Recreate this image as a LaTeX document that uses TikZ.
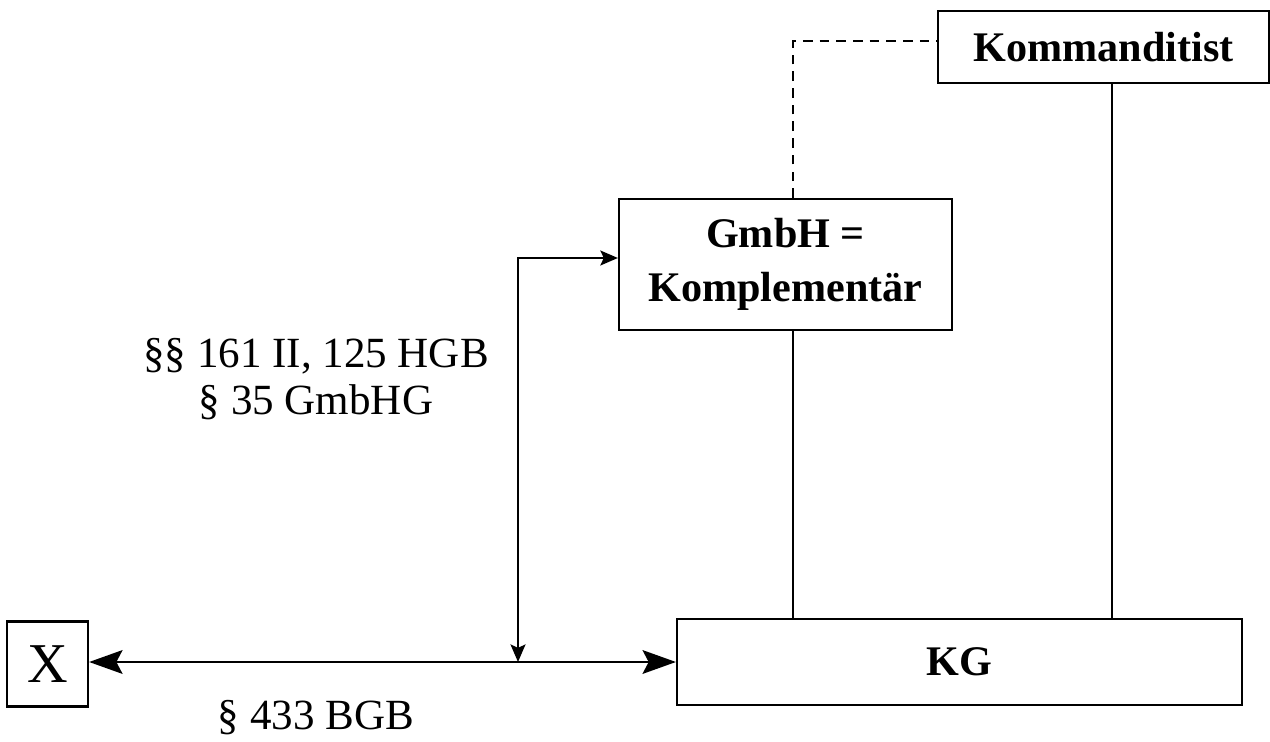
\documentclass[tikz,border=0pt]{standalone}
\usepackage{fontspec}
\setmainfont{Liberation Serif}
\usetikzlibrary{arrows.meta}
\begin{document}
\begin{tikzpicture}[x=0.02cm,y=-0.02cm,
  box/.style={draw,line width=1.3pt,inner sep=0pt,align=center,font=\fontsize{24}{30.5}\selectfont\bfseries},
  lbl/.style={inner sep=0pt,align=center,font=\fontsize{24.5}{27.2}\selectfont},
  conn/.style={line width=1.3pt},
  bigtip/.tip={Stealth[length=19pt,width=13.5pt,inset=3.5pt]},
  smalltip/.tip={Stealth[length=10pt,width=8.5pt,inset=2pt]},
  dashline/.style={line width=1.5pt,dash pattern=on 5.5pt off 4pt}]
\useasboundingbox (0,0) rectangle (1270,742);
\node[box,minimum width=6.62cm,minimum height=1.44cm] (komm) at (1103.5,47) {Kommanditist};
\node[box,minimum width=6.66cm,minimum height=2.62cm] (gmbh) at (785.5,264.5) {GmbH =\\Komplementär};
\node[box,minimum width=11.3cm,minimum height=1.72cm] (kg) at (959.5,662) {KG};
\node[box,minimum width=1.62cm,minimum height=1.7cm,font=\fontsize{32}{36}\selectfont] (x) at (47.5,664) {X};
\node[lbl] (l1) at (316,379) {§§ 161 II, 125 HGB\\§ 35 GmbHG};
\node[lbl] (l2) at (316,718) {§ 433 BGB};
\coordinate (j) at (518,662);
\draw[dashline] ([xshift=4.2pt]gmbh.north) |- ([yshift=3.4pt]komm.west);
\draw[conn] ([xshift=4.2pt]gmbh.south) -- ([xshift=4.2pt]gmbh.south |- kg.north);
\draw[conn] ([xshift=4.8pt]komm.south) -- ([xshift=4.8pt]komm.south |- kg.north);
\draw[conn,{bigtip}-{bigtip}] (x.east |- j) -- (kg.west);
\draw[conn,{smalltip}-{smalltip}] (j) |- ([yshift=3.7pt]gmbh.west);
\end{tikzpicture}
\end{document}
